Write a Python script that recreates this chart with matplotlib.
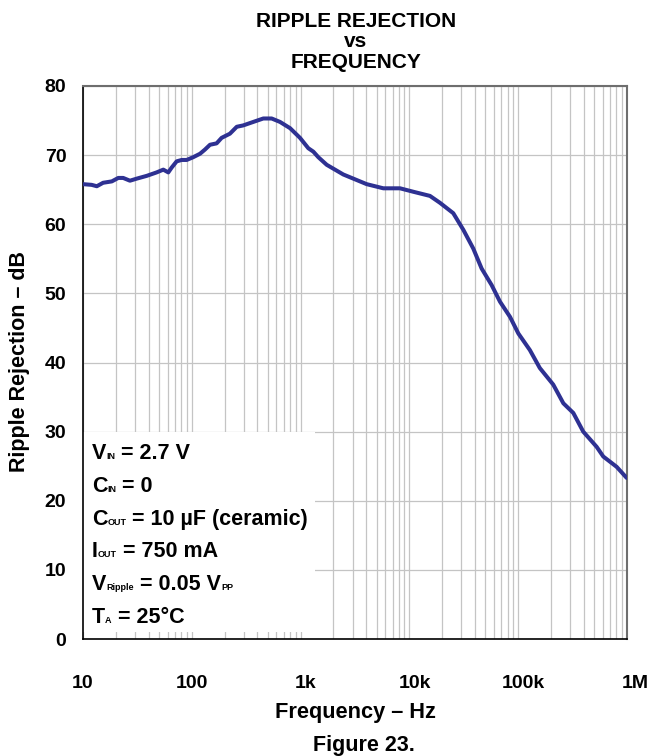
import numpy as np
import matplotlib
matplotlib.use("Agg")
import matplotlib.pyplot as plt
from matplotlib.patches import Rectangle
from matplotlib.transforms import ScaledTranslation

plt.rcParams["font.family"] = ["Liberation Sans", "DejaVu Sans"]
plt.rcParams["font.weight"] = "bold"

# Datos (frecuencia en Hz, rechazo en dB)
freq = [10, 12.0, 13.4, 15.3, 18.4, 21.1, 23.4, 27.0, 31.2, 38.5, 47.5, 54.7,
        60.8, 65.3, 72.6, 80.7, 89.7, 103, 119, 132, 147, 169, 188, 224, 259,
        297, 367, 454, 542, 647, 800, 987, 1177, 1310, 1455, 1738, 2468, 4050,
        5760, 8200, 10870, 15450, 19100, 25300, 31300, 38600, 46100, 57000,
        68000, 84100, 100300, 128000, 158000, 210000, 260000, 321000, 396000,
        526000, 605000, 804000, 994000]
rechazo = [65.8, 65.7, 65.5, 66.0, 66.2, 66.7, 66.7, 66.3, 66.6, 67.0, 67.5,
           67.9, 67.5, 68.2, 69.1, 69.3, 69.3, 69.7, 70.2, 70.8, 71.5, 71.7,
           72.5, 73.1, 74.1, 74.3, 74.8, 75.3, 75.3, 74.8, 73.9, 72.5, 71.0,
           70.5, 69.7, 68.6, 67.2, 65.8, 65.2, 65.2, 64.7, 64.1, 63.1, 61.6,
           59.2, 56.5, 53.6, 51.2, 48.8, 46.6, 44.2, 41.8, 39.2, 36.8, 34.1,
           32.7, 30.0, 27.8, 26.4, 24.9, 23.3]

xticks = [10, 100, 1000, 10000, 100000, 1000000]
xnum = ["10", "100", "1", "10", "100", "1"]
xsuf = ["", "", "k", "k", "k", "M"]
yticks = [0, 10, 20, 30, 40, 50, 60, 70, 80]

# Condiciones de prueba: (letra, subindice, resto, subindice final)
condiciones = [
    ("V", "IN", " = 2.7 V", ""),
    ("C", "IN", " = 0", ""),
    ("C", "OUT", " = 10 \u00b5F (ceramic)", ""),
    ("I", "OUT", " = 750 mA", ""),
    ("V", "Ripple", " = 0.05 V", "PP"),
    ("T", "A", " = 25\u00b0C", ""),
]

W, H = 650, 756
fig = plt.figure(figsize=(W / 100, H / 100), dpi=100)
ax = fig.add_axes([83 / W, 1 - 639 / H, 544 / W, 553 / H])

ax.plot(freq, rechazo, color="#2E3192", lw=2.9, solid_capstyle="round",
        solid_joinstyle="round", zorder=3)
ax.set_xscale("log")
ax.set_xlim(10, 1e6)
ax.set_ylim(0, 80)
ax.set_yticks(yticks)
ax.set_xticks(xticks)
ax.set_xticklabels([])
ax.set_axisbelow(True)
ax.grid(which="both", axis="x", color="#C4C4C4", lw=0.9)
ax.grid(which="major", axis="y", color="#C4C4C4", lw=0.9)
ax.tick_params(which="both", length=0)
ax.tick_params(axis="y", labelsize=14, pad=12)
for lab in ax.get_yticklabels():
    lab.set_fontweight("bold")

for s in ["left", "bottom"]:
    ax.spines[s].set_color("black")
    ax.spines[s].set_linewidth(1.2)
for s in ["top", "right"]:
    ax.spines[s].set_color("#6E6E6E")
    ax.spines[s].set_linewidth(1.5)

# Etiquetas del eje X (la parte numerica centrada en la linea)
renderer = fig.canvas.get_renderer()
for f, n, sfx in zip(xticks, xnum, xsuf):
    t = ax.text(f, 0, n + sfx, fontsize=14, fontweight="bold", ha="center",
                va="baseline", transform=ax.get_xaxis_transform())
    dx = 0
    if sfx:
        tmp = fig.text(0, 0, sfx, fontsize=14, fontweight="bold")
        dx = tmp.get_window_extent(renderer).width / 2
        tmp.remove()
    t.set_transform(ax.get_xaxis_transform() +
                    ScaledTranslation(dx / 100, -49 / 100, fig.dpi_scale_trans))

# Caja blanca de condiciones
ax.add_patch(Rectangle((0, 7 / 553), 232 / 544, 200 / 553, transform=ax.transAxes,
                       facecolor="white", edgecolor="none", zorder=2))


def texto_partes(x, y, partes):
    for s, size in partes:
        if not s:
            continue
        t = fig.text(x / W, 1 - y / H, s, fontsize=size, fontweight="bold",
                     ha="left", va="baseline", zorder=4)
        x += t.get_window_extent(renderer).width


y0 = 459
for i, (a, sub, resto, sub2) in enumerate(condiciones):
    texto_partes(92, y0 + i * 32.8,
                 [(a, 15.5), (sub, 6.5), (resto, 15.5), (sub2, 6.5)])

# Titulos
for texto, yb in [("RIPPLE REJECTION", 26.7), ("vs", 47), ("FREQUENCY", 68)]:
    fig.text(356 / W, 1 - yb / H, texto, fontsize=15, fontweight="bold",
             ha="center", va="baseline")
fig.text(355 / W, 1 - 718 / H, "Frequency \u2013 Hz", fontsize=15.7, fontweight="bold",
         ha="center", va="baseline")
fig.text(364 / W, 1 - 751 / H, "Figure 23.", fontsize=15.5, fontweight="bold",
         ha="center", va="baseline")
fig.text(20 / W, 1 - 362 / H, "Ripple Rejection \u2013 dB", fontsize=15.5,
         fontweight="bold", ha="center", va="center", rotation=90)

fig.savefig("out.png", dpi=100)
